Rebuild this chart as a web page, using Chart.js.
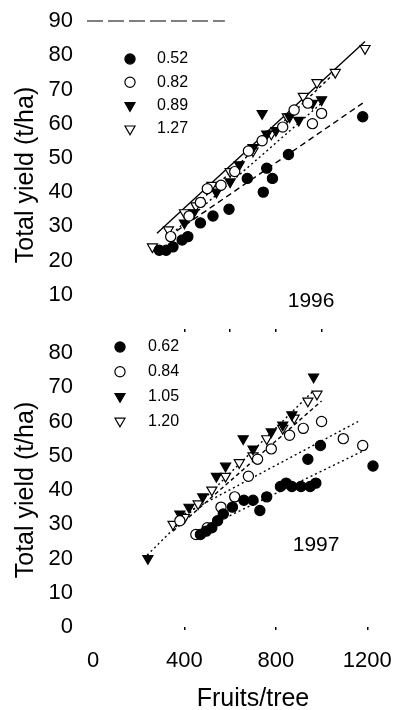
<!DOCTYPE html>
<html>
<head>
<meta charset="utf-8">
<script src="https://cdn.jsdelivr.net/npm/chart.js@4.4.0/dist/chart.umd.min.js"></script>
<style>
    html, body { margin: 0; padding: 0; background: #fff; overflow: hidden; }
    #wrap { position: relative; width: 393px; height: 710px; overflow: hidden; }
    .panel { position: absolute; left: 0; width: 420px; }
    #p96 { top: 0; height: 336px; }
    #p97 { top: 330px; height: 380px; }
</style>
</head>
<body>
<div id="wrap">
    <div class="panel" id="p96"><canvas id="c96"></canvas></div>
    <div class="panel" id="p97"><canvas id="c97"></canvas></div>
</div>
<script>
// ticks
const X_TICKS_TOP = [400, 600, 800, 1000];
const X_TICKS_BOTTOM = [0, 400, 800, 1200];
const Y_TICKS_96 = [10, 20, 30, 40, 50, 60, 70, 80, 90];
const Y_TICKS_97 = [0, 10, 20, 30, 40, 50, 60, 70, 80];

// legend labels
const LABELS_96 = ['0.52', '0.82', '0.89', '1.27'];
const LABELS_97 = ['0.62', '0.84', '1.05', '1.20'];

// 1996: [fruits/tree, t/ha]
const pts96a = [[290, 23], [320, 23], [350, 24], [390, 26], [415, 27], [470, 31], [525, 33], [595, 35], [675, 44], [745, 40], [785, 44], [760, 47], [855, 51], [1180, 62]];
const pts96b = [[340, 27], [420, 33], [470, 37], [500, 41], [560, 42], [620, 46], [680, 52], [740, 55], [830, 59], [880, 64], [940, 66], [960, 60], [1000, 63]];
const pts96c = [[400, 31], [440, 34], [540, 40], [600, 43], [640, 48], [700, 53], [740, 63], [760, 57], [800, 58], [860, 62], [900, 61], [960, 66], [1000, 67]];
const pts96d = [[260, 24], [330, 29], [400, 34], [450, 36], [520, 42], [600, 46], [700, 52], [780, 57], [850, 62], [920, 68], [980, 72], [1060, 75], [1190, 82]];
const fit96a = [[330, 27], [1180, 66]];
const fit96b = [[330, 27], [1000, 66]];
const fit96c = [[400, 33], [1060, 75]];
const fit96d = [[280, 28], [1190, 84]];

// 1997
const pts97a = [[470, 27], [495, 28], [520, 29], [545, 31], [570, 33], [610, 35], [660, 37], [700, 37], [730, 34], [760, 38], [820, 41], [845, 42], [870, 41], [910, 41], [950, 41], [975, 42], [940, 49], [995, 53], [1225, 47]];
const pts97b = [[380, 31], [450, 27], [500, 29], [560, 35], [620, 38], [680, 44], [720, 49], [780, 52], [860, 56], [920, 58], [1000, 60], [1095, 55], [1180, 53]];
const pts97c = [[240, 20], [380, 33], [420, 35], [480, 38], [540, 44], [580, 47], [657, 55], [700, 52], [780, 57], [830, 59], [870, 62], [965, 73]];
const pts97d = [[350, 30], [400, 32], [460, 36], [520, 40], [580, 44], [640, 48], [700, 50], [760, 55], [830, 58], [880, 61], [940, 66], [980, 68]];
const fit97a = [[460, 28], [1200, 52]];
const fit97b = [[400, 33], [1160, 60]];
const fit97c = [[237, 21], [965, 69]];
const fit97d = [[350, 28], [1000, 66]];

const FONT = '"Liberation Sans", Arial, sans-serif';

function toXY(arr) {
    return arr.map(p => ({ x: p[0], y: p[1] }));
}

function pointSet(pts, label, tri, filled) {
    return {
        label,
        legendText: label,
        data: toXY(pts),
        showLine: false,
        pointStyle: tri ? 'triangle' : 'circle',
        rotation: tri ? 180 : 0,
        pointRadius: tri ? 5.8 : 5.1,
        pointBackgroundColor: filled ? '#000' : '#fff',
        pointBorderColor: '#000',
        pointBorderWidth: 1.2,
        clip: false
    };
}

function lineSet(fit, dash) {
    return {
        data: toXY(fit),
        showLine: true,
        pointRadius: 0,
        borderColor: '#000',
        borderWidth: 1.4,
        borderDash: dash,
        fill: false,
        clip: false
    };
}

// legend drawn inside the plot
const insideLegend = {
    id: 'insideLegend',
    afterDatasetsDraw(chart, args, opts) {
        const { ctx, chartArea } = chart;
        ctx.save();
        let i = 0;
        chart.data.datasets.forEach(ds => {
            if (!ds.legendText) return;
            const x = chartArea.left + opts.left;
            const y = chartArea.top + opts.top + i * opts.gap;
            ctx.fillStyle = ds.pointBackgroundColor;
            ctx.strokeStyle = ds.pointBorderColor;
            ctx.lineWidth = ds.pointBorderWidth;
            Chart.helpers.drawPoint(ctx, {
                pointStyle: ds.pointStyle,
                rotation: ds.rotation,
                radius: ds.pointRadius,
                borderWidth: ds.pointBorderWidth
            }, x, y);
            ctx.fillStyle = '#000';
            ctx.font = opts.fontSize + 'px ' + FONT;
            ctx.textBaseline = 'middle';
            ctx.textAlign = 'left';
            ctx.fillText(ds.legendText, x + opts.textDx, y);
            i++;
        });
        ctx.restore();
    }
};

// year label and top frame
const panelText = {
    id: 'panelText',
    afterDraw(chart, args, opts) {
        const { ctx, chartArea, scales } = chart;
        ctx.save();
        ctx.fillStyle = '#000';
        ctx.font = opts.fontSize + 'px ' + FONT;
        ctx.textAlign = 'center';
        ctx.textBaseline = 'middle';
        ctx.fillText(opts.text, scales.x.getPixelForValue(opts.x), scales.y.getPixelForValue(opts.y));
        if (opts.frameEnd) {
            ctx.strokeStyle = '#000';
            ctx.lineWidth = 1.2;
            ctx.setLineDash([16, 5]);
            ctx.beginPath();
            ctx.moveTo(chartArea.left - 6, chartArea.top);
            ctx.lineTo(scales.x.getPixelForValue(opts.frameEnd), chartArea.top);
            ctx.stroke();
        }
        ctx.restore();
    }
};

function makeOptions(cfg) {
    return {
        responsive: true,
        maintainAspectRatio: false,
        animation: false,
        layout: { padding: { top: cfg.padTop, right: 7, left: 0, bottom: 0 } },
        plugins: {
            legend: { display: false },
            tooltip: { enabled: false },
            insideLegend: cfg.legend,
            panelText: cfg.text
        },
        scales: {
            x: {
                type: 'linear',
                min: 0,
                max: 1400,
                afterBuildTicks: s => { s.ticks = cfg.xTicks.map(v => ({ value: v })); },
                afterFit: s => { s.height = cfg.xHeight; },
                border: { display: false },
                grid: {
                    display: true,
                    drawOnChartArea: false,
                    drawTicks: true,
                    tickLength: 3,
                    lineWidth: 1.5,
                    color: c => (c.tick && c.tick.value === 0) ? 'rgba(0,0,0,0)' : '#000'
                },
                ticks: {
                    display: cfg.xLabels,
                    padding: 18,
                    maxRotation: 0,
                    color: '#000',
                    font: { family: FONT, size: 22 },
                    callback: v => String(v)
                },
                title: {
                    display: cfg.xLabels,
                    text: 'Fruits/tree',
                    color: '#000',
                    font: { family: FONT, size: 25, lineHeight: 0.85 },
                    padding: { top: 6, bottom: 0 }
                }
            },
            y: {
                min: 0,
                max: cfg.yMax,
                afterBuildTicks: s => { s.ticks = cfg.yTicks.map(v => ({ value: v })); },
                afterFit: s => {
                    s.width = 93;
                    s.paddingTop = 0;
                    s.paddingBottom = 0;
                },
                border: { display: false },
                grid: { display: false, drawTicks: true, tickLength: 20 },
                ticks: {
                    padding: 0,
                    color: '#000',
                    font: { family: FONT, size: 22 },
                    callback: v => String(v)
                },
                title: {
                    display: true,
                    text: 'Total yield (t/ha)',
                    color: '#000',
                    font: { family: FONT, size: 25 },
                    padding: { top: 11, bottom: 0 }
                }
            }
        }
    };
}

new Chart(document.getElementById('c96'), {
    type: 'scatter',
    data: {
        datasets: [
            pointSet(pts96a, LABELS_96[0], false, true),
            pointSet(pts96b, LABELS_96[1], false, false),
            pointSet(pts96c, LABELS_96[2], true, true),
            pointSet(pts96d, LABELS_96[3], true, false),
            lineSet(fit96a, [6, 4]),
            lineSet(fit96b, [2, 3]),
            lineSet(fit96c, [3, 3]),
            lineSet(fit96d, [])
        ]
    },
    plugins: [insideLegend, panelText],
    options: makeOptions({
        padTop: 21,
        xHeight: 3,
        xLabels: false,
        xTicks: X_TICKS_TOP,
        yMax: 90,
        yTicks: Y_TICKS_96,
        legend: { left: 37, top: 38, gap: 23.3, textDx: 27, fontSize: 16 },
        text: { text: '1996', x: 954, y: 8, fontSize: 21, frameEnd: 577 }
    })
});

new Chart(document.getElementById('c97'), {
    type: 'scatter',
    data: {
        datasets: [
            pointSet(pts97a, LABELS_97[0], false, true),
            pointSet(pts97b, LABELS_97[1], false, false),
            pointSet(pts97c, LABELS_97[2], true, true),
            pointSet(pts97d, LABELS_97[3], true, false),
            lineSet(fit97a, [2, 3]),
            lineSet(fit97b, [2, 3]),
            lineSet(fit97c, [2, 3]),
            lineSet(fit97d, [4, 3])
        ]
    },
    plugins: [insideLegend, panelText],
    options: makeOptions({
        padTop: 23,
        xHeight: 83,
        xLabels: true,
        xTicks: X_TICKS_BOTTOM,
        yMax: 80,
        yTicks: Y_TICKS_97,
        legend: { left: 27, top: -6, gap: 24.7, textDx: 28, fontSize: 16 },
        text: { text: '1997', x: 976, y: 24, fontSize: 21 }
    })
});
</script>
</body>
</html>
